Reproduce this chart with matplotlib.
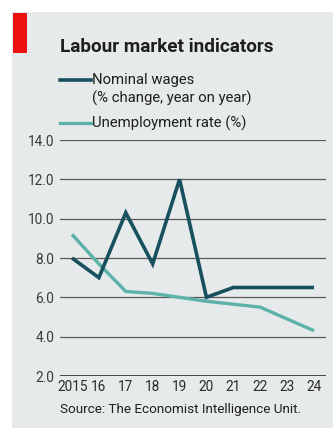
import matplotlib
matplotlib.use("Agg")
import matplotlib.pyplot as plt
from matplotlib.patches import Rectangle
import matplotlib.transforms as mtransforms

years = [2015, 2016, 2017, 2018, 2019, 2020, 2021, 2022, 2023, 2024]
year_labels = ["2015", "16", "17", "18", "19", "20", "21", "22", "23", "24"]
nominal_wages = [8.0, 7.0, 10.3, 7.7, 12.0, 6.0, 6.5, 6.5, 6.5, 6.5]
unemployment = [9.2, 7.7, 6.3, 6.2, 6.0, 5.8, 5.65, 5.5, 4.9, 4.3]
y_ticks = [2.0, 4.0, 6.0, 8.0, 10.0, 12.0, 14.0]

W, H = 333, 428
DPI = 100
WAGE_COLOR = "#17505e"
UNEMP_COLOR = "#5cb2a8"
PANEL = "#e7eaea"
TEXT = "#1e1e1e"
FONT = "Roboto"

fig = plt.figure(figsize=(W / DPI, H / DPI), dpi=DPI)
fig.patch.set_facecolor("white")

# background panel and red tag
fig.add_artist(Rectangle((12 / W, 0), 1 - 12 / W, 1 - 12 / H,
                         transform=fig.transFigure, facecolor=PANEL,
                         edgecolor="none", zorder=0))
fig.add_artist(Rectangle((13 / W, 1 - 53 / H), 14 / W, 40 / H,
                         transform=fig.transFigure, facecolor="#ee1111",
                         edgecolor="none", zorder=1))

ax = fig.add_axes([60 / W, 1 - 376 / H, 266 / W, 236 / H])
ax.set_facecolor("none")
ax.set_xlim(2015 - 12 / 26.9, 2024 + 12 / 26.9)
ax.set_ylim(2, 14)

for v in y_ticks[1:]:
    ax.axhline(v, color="#5a5a5a", lw=0.9, zorder=1)
ax.axhline(2.0, color="#111111", lw=1.8, zorder=1)

ax.plot(years, unemployment, color=UNEMP_COLOR, lw=2.4, zorder=3,
        solid_capstyle="butt", solid_joinstyle="miter", clip_on=False)
ax.plot(years, nominal_wages, color=WAGE_COLOR, lw=2.6, zorder=4,
        solid_capstyle="butt", solid_joinstyle="miter", clip_on=False)

for s in ax.spines.values():
    s.set_visible(False)
ax.set_yticks(y_ticks)
ax.set_yticklabels([f"{v:.1f}" for v in y_ticks], fontsize=9.8,
                   color="#3a3a3a", family=FONT)
ax.set_xticks(years)
ax.set_xticklabels(year_labels, fontsize=9.8, color="#2a2a2a", family=FONT)
ax.tick_params(axis="both", length=0)
ax.tick_params(axis="y", pad=4)
ax.tick_params(axis="x", pad=3)
first = ax.get_xticklabels()[0]
first.set_transform(first.get_transform() +
                    mtransforms.ScaledTranslation(1 / DPI, 0, fig.dpi_scale_trans))

# title
fig.text(60 / W, 1 - 47 / H, "Labour market indicators", fontsize=13.6,
         fontweight="bold", color=TEXT, family=FONT, va="center", ha="left")

# legend
fig.add_artist(plt.Line2D([60 / W, 91 / W], [1 - 80 / H, 1 - 80 / H],
                          color=WAGE_COLOR, lw=2.6, transform=fig.transFigure))
fig.add_artist(plt.Line2D([60 / W, 91 / W], [1 - 123 / H, 1 - 123 / H],
                          color=UNEMP_COLOR, lw=2.4, transform=fig.transFigure))
fig.text(92 / W, 1 - 80 / H, "Nominal wages", fontsize=10.7, color=TEXT,
         family=FONT, va="center", ha="left")
fig.text(92 / W, 1 - 98 / H, "(% change, year on year)", fontsize=10.7,
         color=TEXT, family=FONT, va="center", ha="left")
fig.text(92 / W, 1 - 123 / H, "Unemployment rate (%)", fontsize=10.7,
         color=TEXT, family=FONT, va="center", ha="left")

# source
fig.text(60 / W, 1 - 409 / H, "Source: The Economist Intelligence Unit.",
         fontsize=9.7, color=TEXT, family=FONT, va="center", ha="left")

fig.savefig("out.png", dpi=DPI, facecolor=fig.get_facecolor())
